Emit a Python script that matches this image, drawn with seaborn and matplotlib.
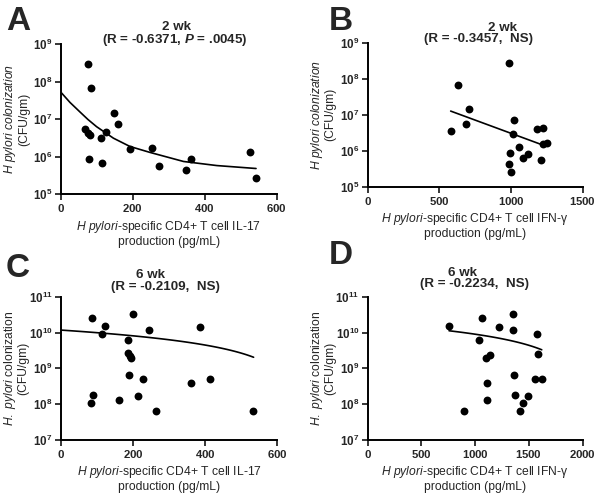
import numpy as np
import seaborn as sns
import matplotlib
matplotlib.use("Agg")
import matplotlib.pyplot as plt
from matplotlib.ticker import FixedLocator, FuncFormatter, NullLocator

# Panel A : 2 wk, IL-17
a_x = [76, 84, 68, 76, 81, 79, 112, 126, 115, 147, 159, 191, 253, 273, 347, 361, 526, 543]
a_y = [2.9e8, 6.9e7, 5.4e6, 4.3e6, 3.8e6, 8.7e5, 3.1e6, 4.5e6, 6.8e5, 1.45e7, 7.4e6, 1.6e6,
       1.7e6, 5.7e5, 4.3e5, 8.5e5, 1.3e6, 2.6e5]
a_fit_x = [0, 25, 53, 75, 99, 146, 192, 248, 341, 434, 543]
a_fit_y = [5.2e7, 2.8e7, 1.55e7, 9.8e6, 6.3e6, 3.1e6, 1.86e6, 1.29e6, 7.4e5, 5.75e5, 4.8e5]

# Panel B : 2 wk, IFN-g
b_x = [986, 628, 709, 686, 579, 1023, 1016, 1058, 995, 988, 1000, 1082, 1121, 1179, 1226,
       1209, 1221, 1254]
b_y = [2.8e8, 6.6e7, 1.4e7, 5.4e6, 3.6e6, 7.1e6, 3.0e6, 1.3e6, 8.5e5, 4.2e5, 2.6e5, 6.2e5,
       8.1e5, 4.0e6, 4.2e6, 5.5e5, 1.5e6, 1.6e6]
b_fit_x = [579, 1240]
b_fit_y = [1.26e7, 1.35e6]

# Panel C : 6 wk, IL-17
c_x = [87, 122, 113, 199, 244, 187, 187, 192, 195, 188, 227, 88, 84, 161, 214, 264, 361,
       415, 387, 533]
c_y = [2.5e10, 1.55e10, 8.9e9, 3.3e10, 1.15e10, 6.0e9, 2.6e9, 2.2e9, 1.9e9, 6.5e8, 4.9e8,
       1.8e8, 1.05e8, 1.35e8, 1.65e8, 6.5e7, 3.9e8, 4.9e8, 1.4e10, 6.5e7]
c_fit_x = [0, 535]
c_fit_y = [1.17e10, 2.04e9]

# Panel D : 6 wk, IFN-g
d_x = [757, 1060, 1036, 1222, 1355, 1355, 1578, 1588, 1098, 1138, 1113, 1113, 896, 1364,
       1553, 1619, 1370, 1491, 1442, 1420]
d_y = [1.56e10, 2.5e10, 6.0e9, 1.4e10, 3.3e10, 1.15e10, 8.9e9, 2.5e9, 1.9e9, 2.3e9, 3.9e8,
       1.35e8, 6.5e7, 6.5e8, 4.9e8, 4.9e8, 1.8e8, 1.65e8, 1.05e8, 6.5e7]
d_fit_x = [757, 1619]
d_fit_y = [1.12e10, 3.3e9]

il17_label = "$\\it{H\\ pylori}$-specific CD4+ T cell IL-17\nproduction (pg/mL)"
ifng_label = "$\\it{H\\ pylori}$-specific CD4+ T cell IFN-\u03b3\nproduction (pg/mL)"


def setup_axis(ax, xticks, ydecades, ylabel, xlabel):
    ax.set_yscale("log")
    ax.set_xlim(xticks[0], xticks[-1])
    ax.set_ylim(10.0 ** ydecades[0], 10.0 ** ydecades[-1])
    ax.xaxis.set_major_locator(FixedLocator(xticks))
    ax.yaxis.set_major_locator(FixedLocator([10.0 ** d for d in ydecades]))
    ax.yaxis.set_minor_locator(NullLocator())
    ax.yaxis.set_major_formatter(FuncFormatter(
        lambda v, p: "$\\mathbf{10^{%d}}$" % round(np.log10(v))))
    ax.xaxis.set_major_formatter(FuncFormatter(lambda v, p: "$\\mathbf{%d}$" % v))
    ax.tick_params(axis="both", direction="out", length=4, width=1.3, pad=2)
    ax.tick_params(axis="x", labelsize=8.2)
    ax.tick_params(axis="y", labelsize=8.4)
    sns.despine(ax=ax)
    for s in ("left", "bottom"):
        ax.spines[s].set_linewidth(1.4)
        ax.spines[s].set_color("black")
    ax.set_ylabel(ylabel, fontsize=8.7, linespacing=0.95)
    ax.set_xlabel(xlabel, fontsize=8.7, linespacing=1.1)
    ax.yaxis.set_label_coords(-0.145, 0.5)
    ax.xaxis.set_label_coords(0.5, -0.17)


def draw_panel(ax, x, y, fit_x, fit_y, linear_fit):
    sns.scatterplot(x=x, y=y, ax=ax, color="black", s=32, linewidth=0, zorder=3)
    if linear_fit:
        fx = np.linspace(fit_x[0], fit_x[-1], 60)
        fy = np.interp(fx, fit_x, fit_y)
    else:
        fx, fy = fit_x, fit_y
    sns.lineplot(x=fx, y=fy, ax=ax, color="black", linewidth=1.2, estimator=None, sort=False)


def make_figure():
    sns.set_style("ticks")
    plt.rcParams["font.family"] = ["Liberation Sans", "DejaVu Sans"]
    plt.rcParams["mathtext.fontset"] = "custom"
    plt.rcParams["mathtext.rm"] = "Liberation Sans"
    plt.rcParams["mathtext.it"] = "Liberation Sans:italic"
    plt.rcParams["mathtext.bf"] = "Liberation Sans:bold"
    plt.rcParams["mathtext.bfit"] = "Liberation Sans:italic:bold"

    W, H = 601, 493
    fig = plt.figure(figsize=(W / 100, H / 100), dpi=100)

    def px_axes(left, right, top, bottom):
        return fig.add_axes([left / W, 1 - bottom / H, (right - left) / W, (bottom - top) / H])

    ax_a = px_axes(61, 276.5, 44.3, 194)
    ax_b = px_axes(367.7, 582.7, 42.7, 186.7)
    ax_c = px_axes(61, 277, 296.7, 440)
    ax_d = px_axes(367.7, 582.7, 296.7, 440)

    draw_panel(ax_a, a_x, a_y, a_fit_x, a_fit_y, False)
    draw_panel(ax_b, b_x, b_y, b_fit_x, b_fit_y, False)
    draw_panel(ax_c, c_x, c_y, c_fit_x, c_fit_y, True)
    draw_panel(ax_d, d_x, d_y, d_fit_x, d_fit_y, True)

    setup_axis(ax_a, [0, 200, 400, 600], [5, 6, 7, 8, 9],
               "$\\it{H\\ pylori\\ colonization}$\n(CFU/gm)", il17_label)
    setup_axis(ax_b, [0, 500, 1000, 1500], [5, 6, 7, 8, 9],
               "$\\it{H\\ pylori\\ colonization}$\n(CFU/gm)", ifng_label)
    setup_axis(ax_c, [0, 200, 400, 600], [7, 8, 9, 10, 11],
               "$\\it{H.\\ pylori}$ colonization\n(CFU/gm)", il17_label)
    setup_axis(ax_d, [0, 500, 1000, 1500, 2000], [7, 8, 9, 10, 11],
               "$\\it{H.\\ pylori}$ colonization\n(CFU/gm)", ifng_label)

    # titles, one line at a time
    titles = [
        (177, 30, "2 wk", 175, 43, "(R = -0.6371, $\\mathbfit{P}$ = .0045)"),
        (503, 31, "2 wk", 479, 42, "(R = -0.3457,  NS)"),
        (150, 278, "6 wk", 165, 290, "(R = -0.2109,  NS)"),
        (463, 276, "6 wk", 474, 287, "(R = -0.2234,  NS)"),
    ]
    for x1, y1, t1, x2, y2, t2 in titles:
        fig.text(x1 / W, 1 - y1 / H, t1, ha="center", va="baseline", fontsize=9.6, fontweight="bold")
        fig.text(x2 / W, 1 - y2 / H, t2, ha="center", va="baseline", fontsize=9.6, fontweight="bold")

    for x, y, letter in [(6, 30, "A"), (329, 30, "B"), (6, 277, "C"), (329, 264, "D")]:
        fig.text(x / W, 1 - y / H, letter, ha="left", va="baseline", fontsize=24, fontweight="bold")

    fig.savefig("out.png", dpi=100)


if __name__ == "__main__":
    make_figure()
